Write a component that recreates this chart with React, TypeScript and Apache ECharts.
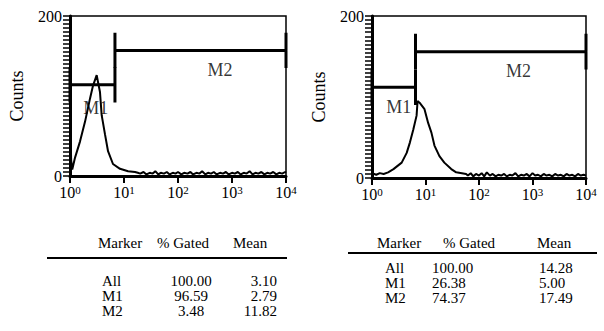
import React, { useEffect, useRef } from 'react';
import * as echarts from 'echarts';

const FONT = 'Liberation Serif, Times New Roman, serif';

// Histogram A (left panel): [fluorescence, counts]
const histA: [number, number][] = [
  [1.0, 0], [1.01, 73], [1.05, 20], [1.1, 8], [1.24, 23], [1.53, 43], [1.9, 68], [2.35, 97], [2.67, 113],
  [3.12, 126], [3.59, 105], [3.86, 76], [4.45, 52], [5.06, 31], [6.25, 15], [8.43, 9],
  [11.9, 6], [16, 5], [18, 4], [20, 3], [23, 5], [26, 2], [30, 4], [34, 3], [38, 6], [43, 2],
  [48, 4], [55, 3], [62, 5], [70, 2], [80, 4], [90, 3], [100, 5], [115, 2], [130, 4], [150, 3],
  [170, 5], [190, 2], [220, 4], [250, 3], [280, 6], [320, 2], [360, 4], [410, 3], [460, 5],
  [520, 2], [600, 4], [680, 3], [770, 5], [870, 2], [1000, 4], [1130, 3], [1280, 5], [1450, 2],
  [1650, 4], [1870, 3], [2120, 6], [2400, 2], [2720, 4], [3080, 3], [3500, 5], [3970, 2],
  [4500, 4], [5100, 3], [5800, 5], [6600, 2], [7500, 4], [8500, 3], [9600, 5], [10000, 4],
];

// Histogram B (right panel)
const histB: [number, number][] = [
  [1.0, 6], [1.2, 4], [1.4, 6], [1.65, 5], [2.0, 7], [2.52, 11], [3.59, 19], [4.45, 31],
  [5.12, 44], [5.92, 60], [6.81, 77], [7.11, 95], [7.74, 93], [9.58, 85], [11.2, 68],
  [12.9, 56], [14.7, 40], [18.2, 27], [22.5, 19], [30.3, 11], [37.5, 7], [57.4, 5],
  [62, 3], [70, 6], [78, 2], [88, 5], [100, 3], [112, 6], [125, 2], [140, 7], [160, 3],
  [180, 5], [205, 2], [230, 4], [260, 3], [295, 5], [330, 2], [375, 4], [420, 3], [480, 6],
  [540, 2], [610, 4], [690, 3], [780, 5], [880, 2], [1000, 6], [1120, 3], [1270, 4],
  [1430, 2], [1620, 5], [1830, 3], [2070, 4], [2340, 2], [2650, 5], [3000, 3], [3390, 4],
  [3830, 2], [4330, 5], [4900, 3], [5540, 4], [6260, 2], [7080, 5], [8000, 3], [9050, 4],
  [10000, 3],
];

// Gating markers: start, end (fluorescence), level (counts)
const markersA = [
  { name: 'M1', start: 1, end: 6.8, level: 114 },
  { name: 'M2', start: 6.8, end: 10000, level: 157 },
];
const markersB = [
  { name: 'M1', start: 1, end: 6.5, level: 112 },
  { name: 'M2', start: 6.5, end: 10000, level: 156 },
];
const markerLabelsA: [string, number, number][] = [['M1', 3.0, 85], ['M2', 600, 132]];
const markerLabelsB: [string, number, number][] = [['M1', 3.16, 88], ['M2', 550, 132]];
const MARKER_HALF = 22;

// Statistics tables
const tableHeader = ['Marker', '% Gated', 'Mean'];
const markerNames = ['All', 'M1', 'M2'];
const gatedA = ['100.00', '96.59', '3.48'];
const meanA = ['3.10', '2.79', '11.82'];
const gatedB = ['100.00', '26.38', '74.37'];
const meanB = ['14.28', '5.00', '17.49'];

const yAxisMax = 200;
const yTickLabels = [0, 200];
const xMin = 1;
const xMax = 10000;

type TableCfg = {
  headerY: number; headerX: number[]; lineY: number; lineX: [number, number];
  rowY: number[]; nameX: number; gatedX: number; gatedAlign: string; meanX: number; meanAlign: string;
};

function tableGraphics(gated: string[], mean: string[], cfg: TableCfg) {
  const font = `15px ${FONT}`;
  const mk = (text: string, x: number, y: number, align: string) => ({
    type: 'text', x, y, silent: true,
    style: { text, font, fill: '#000', align, verticalAlign: 'middle' },
  });
  const els: any[] = [];
  tableHeader.forEach((h, i) => els.push(mk(h, cfg.headerX[i], cfg.headerY, 'left')));
  els.push({
    type: 'line', silent: true,
    shape: { x1: cfg.lineX[0], y1: cfg.lineY, x2: cfg.lineX[1], y2: cfg.lineY },
    style: { stroke: '#000', lineWidth: 2 },
  });
  markerNames.forEach((n, i) => {
    const y = cfg.rowY[i];
    els.push(mk(n, cfg.nameX, y, 'left'));
    els.push(mk(gated[i], cfg.gatedX, y, cfg.gatedAlign));
    els.push(mk(mean[i], cfg.meanX, y, cfg.meanAlign));
  });
  return els;
}

function buildOption(
  hist: [number, number][],
  markers: typeof markersA,
  labels: [string, number, number][],
  gated: string[],
  mean: string[],
  gridLeft: number,
  gridHeight: number,
  table: TableCfg
): any {
  return {
    animation: false,
    grid: { left: gridLeft, top: 16, width: 216, height: gridHeight, show: true, borderColor: '#000', borderWidth: 1.5 },
    xAxis: {
      type: 'log',
      min: xMin,
      max: xMax,
      axisLine: { show: true, lineStyle: { color: '#000', width: 3 } },
      axisTick: { show: true, length: 7, lineStyle: { color: '#000', width: 2 } },
      splitLine: { show: false },
      axisLabel: {
        formatter: (v: number) => `{base|10}{sup|${Math.round(Math.log10(v))}}`,
        rich: {
          base: { fontFamily: FONT, fontSize: 16, color: '#000' },
          sup: { fontFamily: FONT, fontSize: 11, color: '#000', verticalAlign: 'top' },
        },
      },
    },
    yAxis: {
      type: 'value',
      min: 0,
      max: yAxisMax,
      interval: 5,
      name: 'Counts',
      nameLocation: 'middle',
      nameGap: 44,
      nameTextStyle: { fontFamily: FONT, fontSize: 18, color: '#000' },
      axisLine: { show: true, lineStyle: { color: '#000', width: 3 } },
      axisTick: { show: true, length: 7, lineStyle: { color: '#000', width: 1.5 } },
      splitLine: { show: false },
      axisLabel: {
        fontFamily: FONT,
        fontSize: 16,
        color: '#000',
        formatter: (v: number) => (yTickLabels.includes(v) ? String(v) : ''),
      },
    },
    series: [
      { type: 'line', showSymbol: false, data: hist, lineStyle: { color: '#000', width: 2 } },
      ...markers.map((m) => ({
        type: 'line',
        showSymbol: false,
        lineStyle: { color: '#000', width: 3 },
        data: [
          [m.start, m.level - MARKER_HALF],
          [m.start, m.level + MARKER_HALF],
          [m.start, m.level],
          [m.end, m.level],
          [m.end, m.level + MARKER_HALF],
          [m.end, m.level - MARKER_HALF],
        ],
      })),
      {
        type: 'scatter',
        symbolSize: 0,
        data: labels.map((l) => ({ value: [l[1], l[2]], name: l[0] })),
        label: {
          show: true,
          position: 'inside',
          formatter: (p: any) => p.name,
          fontFamily: FONT,
          fontSize: 18,
          color: '#000',
        },
      },
    ],
    graphic: tableGraphics(gated, mean, table),
  };
}

function Panel({ option, left }: { option: any; left: number }) {
  const ref = useRef<HTMLDivElement>(null);
  useEffect(() => {
    if (!ref.current) return;
    const c = echarts.init(ref.current, undefined, { renderer: 'svg' });
    c.setOption(option);
    return () => c.dispose();
  }, []);
  return <div ref={ref} style={{ position: 'fixed', left, top: 0, width: 302, height: 331 }} />;
}

const optionA = buildOption(histA, markersA, markerLabelsA, gatedA, meanA, 70, 160, {
  headerY: 243, headerX: [98, 157, 233], lineY: 258, lineX: [47, 287],
  rowY: [281, 296, 311], nameX: 102, gatedX: 191, gatedAlign: 'center', meanX: 277, meanAlign: 'right',
});

const optionB = buildOption(histB, markersB, markerLabelsB, gatedB, meanB, 68, 162, {
  headerY: 243, headerX: [75, 141, 235], lineY: 253, lineX: [46, 295],
  rowY: [268, 283, 298], nameX: 83, gatedX: 130, gatedAlign: 'left', meanX: 237, meanAlign: 'left',
});

export default function App() {
  return (
    <div style={{ position: 'fixed', left: 0, top: 0, width: 604, height: 331, background: '#fff' }}>
      <Panel option={optionA} left={0} />
      <Panel option={optionB} left={302} />
    </div>
  );
}
